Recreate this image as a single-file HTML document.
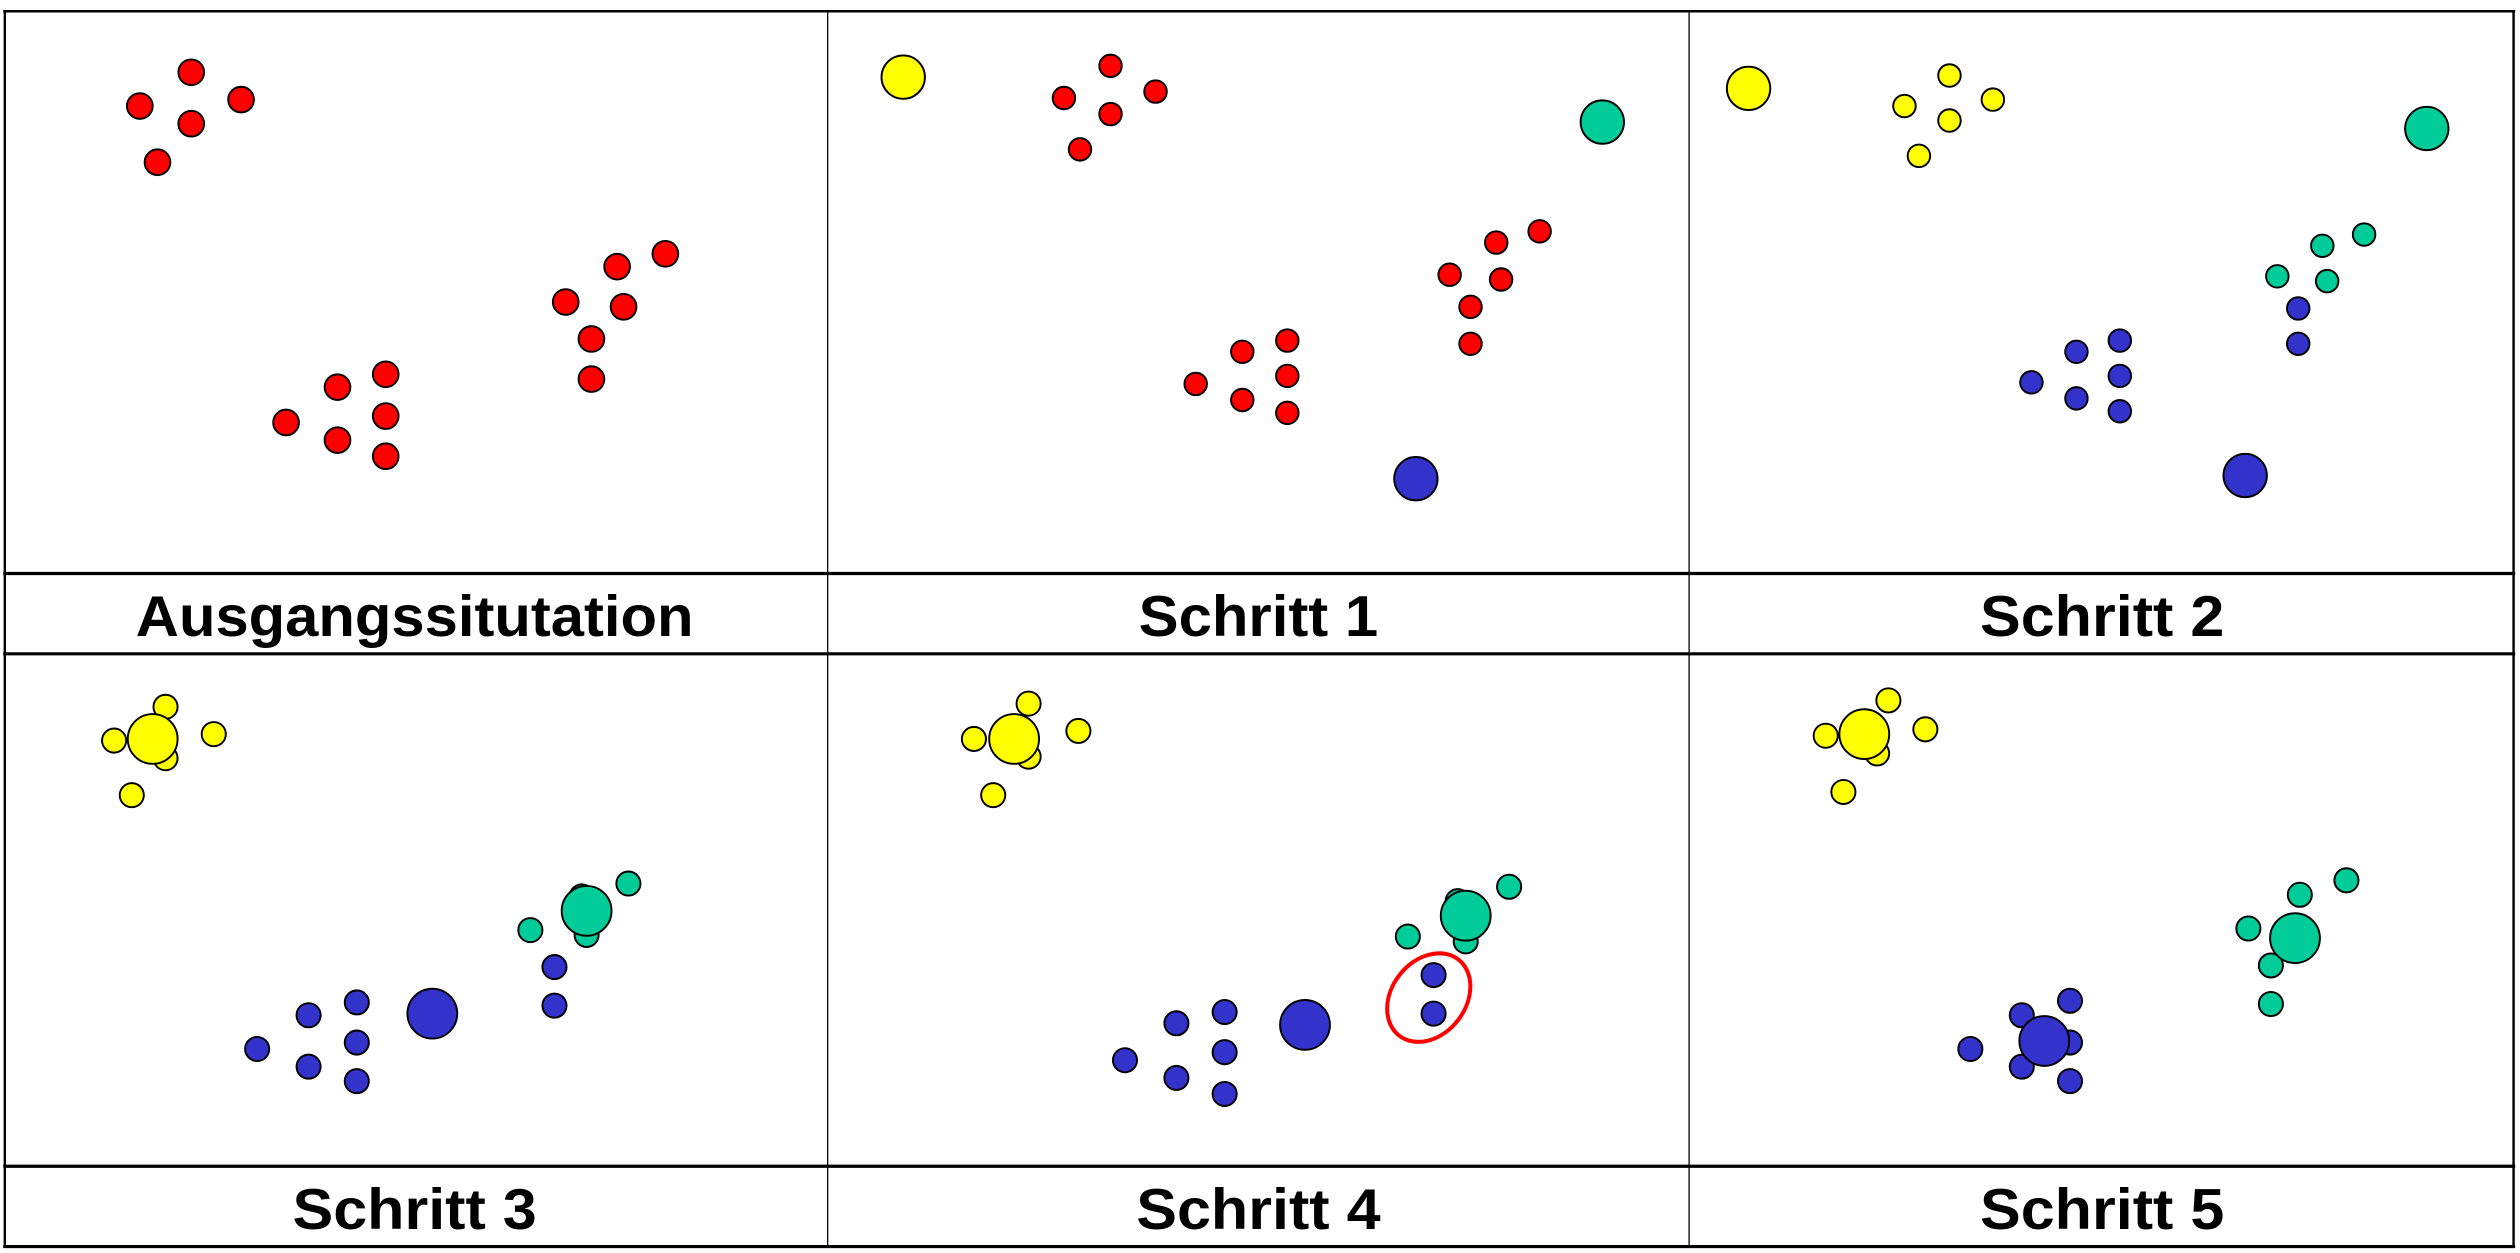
<!DOCTYPE html>
<html><head><meta charset="utf-8"><style>
html,body{margin:0;padding:0;background:#fff}
svg{display:block}
text{font-family:"Liberation Sans",sans-serif;font-weight:bold;font-size:36px;text-anchor:middle}
.r{fill:#ff0000}.y{fill:#ffff00}.t{fill:#00cc99}.b{fill:#3333cc}
circle{stroke:#000;stroke-width:1.2}
</style></head><body>
<svg width="2520" height="1253" viewBox="0 0 1568 780" preserveAspectRatio="none" xmlns="http://www.w3.org/2000/svg">
<rect width="1568" height="780" fill="#fff"/>
<g stroke="#000" fill="none">
<line x1="2" y1="7" x2="1565" y2="7" stroke-width="1.5"/>
<line x1="2" y1="357" x2="1565" y2="357" stroke-width="2"/>
<line x1="2" y1="407" x2="1565" y2="407" stroke-width="2"/>
<line x1="2" y1="726" x2="1565" y2="726" stroke-width="2"/>
<line x1="2" y1="776" x2="1565" y2="776" stroke-width="2"/>
<line x1="3" y1="7" x2="3" y2="776" stroke-width="1.5"/>
<line x1="1564" y1="7" x2="1564" y2="776" stroke-width="1.5"/>
<line x1="515" y1="7" x2="515" y2="776" stroke-width="0.8"/>
<line x1="1051" y1="7" x2="1051" y2="776" stroke-width="0.8"/>
</g>
<text x="258" y="396" textLength="347" lengthAdjust="spacingAndGlyphs">Ausgangssitutation</text>
<text x="783" y="396" textLength="149" lengthAdjust="spacingAndGlyphs">Schritt 1</text>
<text x="1308" y="396" textLength="152" lengthAdjust="spacingAndGlyphs">Schritt 2</text>
<text x="258" y="765" textLength="152" lengthAdjust="spacingAndGlyphs">Schritt 3</text>
<text x="783" y="765" textLength="152" lengthAdjust="spacingAndGlyphs">Schritt 4</text>
<text x="1308" y="765" textLength="152" lengthAdjust="spacingAndGlyphs">Schritt 5</text>
<!-- panel 1 -->
<g class="r">
<circle cx="119" cy="45" r="8"/><circle cx="150" cy="62" r="8"/><circle cx="87" cy="66" r="8"/><circle cx="119" cy="77" r="8"/><circle cx="98" cy="101" r="8"/>
<circle cx="414" cy="158" r="8"/><circle cx="384" cy="166" r="8"/><circle cx="352" cy="188" r="8"/><circle cx="388" cy="191" r="8"/><circle cx="368" cy="211" r="8"/><circle cx="368" cy="236" r="8"/>
<circle cx="240" cy="233" r="8"/><circle cx="210" cy="241" r="8"/><circle cx="240" cy="259" r="8"/><circle cx="178" cy="263" r="8"/><circle cx="210" cy="274" r="8"/><circle cx="240" cy="284" r="8"/>
</g>
<!-- panel 2 -->
<circle class="y" cx="562" cy="48" r="13.5"/><circle class="t" cx="997" cy="76" r="13.5"/><circle class="b" cx="881" cy="298" r="13.5"/>
<g class="r">
<circle cx="691" cy="41" r="7"/><circle cx="719" cy="57" r="7"/><circle cx="662" cy="61" r="7"/><circle cx="691" cy="71" r="7"/><circle cx="672" cy="93" r="7"/>
<circle cx="958" cy="144" r="7"/><circle cx="931" cy="151" r="7"/><circle cx="902" cy="171" r="7"/><circle cx="934" cy="174" r="7"/><circle cx="915" cy="191" r="7"/><circle cx="915" cy="214" r="7"/>
<circle cx="801" cy="212" r="7"/><circle cx="773" cy="219" r="7"/><circle cx="801" cy="234" r="7"/><circle cx="744" cy="239" r="7"/><circle cx="773" cy="249" r="7"/><circle cx="801" cy="257" r="7"/>
</g>
<!-- panel 3 -->
<circle class="y" cx="1088" cy="55" r="13.5"/><circle class="t" cx="1510" cy="80" r="13.5"/><circle class="b" cx="1397" cy="296" r="13.5"/>
<g class="y"><circle cx="1213" cy="47" r="7"/><circle cx="1240" cy="62" r="7"/><circle cx="1185" cy="66" r="7"/><circle cx="1213" cy="75" r="7"/><circle cx="1194" cy="97" r="7"/></g>
<g class="t"><circle cx="1471" cy="146" r="7"/><circle cx="1445" cy="153" r="7"/><circle cx="1417" cy="172" r="7"/><circle cx="1448" cy="175" r="7"/></g>
<g class="b"><circle cx="1430" cy="192" r="7"/><circle cx="1430" cy="214" r="7"/>
<circle cx="1319" cy="212" r="7"/><circle cx="1292" cy="219" r="7"/><circle cx="1319" cy="234" r="7"/><circle cx="1264" cy="238" r="7"/><circle cx="1292" cy="248" r="7"/><circle cx="1319" cy="256" r="7"/></g>
<!-- panel 4 -->
<g class="y"><circle cx="103" cy="440" r="7.5"/><circle cx="133" cy="457" r="7.5"/><circle cx="71" cy="461" r="7.5"/><circle cx="103" cy="472" r="7.5"/><circle cx="82" cy="495" r="7.5"/></g>
<circle class="y" cx="95" cy="460" r="15.5"/>
<g class="t"><circle cx="362" cy="558" r="7.5"/><circle cx="365" cy="582" r="7.5"/><circle cx="391" cy="550" r="7.5"/><circle cx="330" cy="579" r="7.5"/></g>
<circle class="t" cx="365" cy="567" r="15.5"/>
<g class="b"><circle cx="345" cy="602" r="7.5"/><circle cx="345" cy="626" r="7.5"/>
<circle cx="222" cy="624" r="7.5"/><circle cx="192" cy="632" r="7.5"/><circle cx="222" cy="649" r="7.5"/><circle cx="160" cy="653" r="7.5"/><circle cx="192" cy="664" r="7.5"/><circle cx="222" cy="673" r="7.5"/></g>
<circle class="b" cx="269" cy="631" r="15.5"/>
<!-- panel 5 -->
<g class="y"><circle cx="640" cy="438" r="7.5"/><circle cx="671" cy="455" r="7.5"/><circle cx="606" cy="460" r="7.5"/><circle cx="640" cy="471" r="7.5"/><circle cx="618" cy="495" r="7.5"/></g>
<circle class="y" cx="631" cy="460" r="15.5"/>
<g class="t"><circle cx="907" cy="561" r="7.5"/><circle cx="912" cy="586" r="7.5"/><circle cx="939" cy="552" r="7.5"/><circle cx="876" cy="583" r="7.5"/></g>
<circle class="t" cx="912" cy="570" r="15.5"/>
<g class="b"><circle cx="892" cy="607" r="7.5"/><circle cx="892" cy="631" r="7.5"/>
<circle cx="762" cy="630" r="7.5"/><circle cx="732" cy="637" r="7.5"/><circle cx="762" cy="655" r="7.5"/><circle cx="700" cy="660" r="7.5"/><circle cx="732" cy="671" r="7.5"/><circle cx="762" cy="681" r="7.5"/></g>
<circle class="b" cx="812" cy="638" r="15.5"/>
<ellipse cx="889" cy="621" rx="23" ry="30" transform="rotate(38 889 621)" fill="none" stroke="#ff0000" stroke-width="2.5"/>
<!-- panel 6 -->
<g class="y"><circle cx="1175" cy="436" r="7.5"/><circle cx="1198" cy="454" r="7.5"/><circle cx="1136" cy="458" r="7.5"/><circle cx="1168" cy="469" r="7.5"/><circle cx="1147" cy="493" r="7.5"/></g>
<circle class="y" cx="1160" cy="457" r="15.5"/>
<g class="t"><circle cx="1460" cy="548" r="7.5"/><circle cx="1431" cy="557" r="7.5"/><circle cx="1399" cy="578" r="7.5"/><circle cx="1413" cy="601" r="7.5"/><circle cx="1413" cy="625" r="7.5"/></g>
<circle class="t" cx="1428" cy="584" r="15.5"/>
<g class="b"><circle cx="1288" cy="623" r="7.5"/><circle cx="1258" cy="632" r="7.5"/><circle cx="1288" cy="649" r="7.5"/><circle cx="1226" cy="653" r="7.5"/><circle cx="1258" cy="664" r="7.5"/><circle cx="1288" cy="673" r="7.5"/></g>
<circle class="b" cx="1272" cy="648" r="15.5"/>
</svg>
</body></html>
